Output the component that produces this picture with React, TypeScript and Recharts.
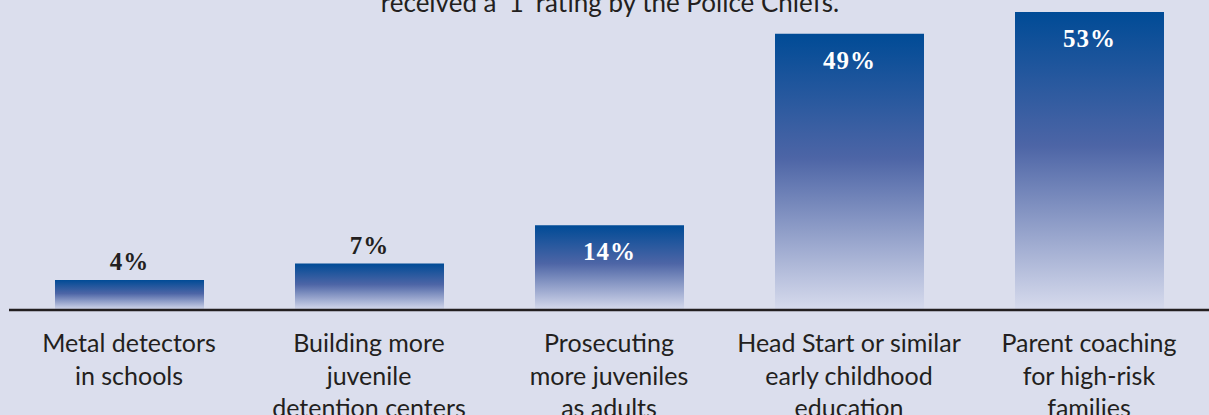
import React from 'react'
import { Bar, BarChart, LabelList, XAxis, YAxis } from 'recharts'

const categories = [
  ['Metal detectors', 'in schools'],
  ['Building more', 'juvenile', 'detention centers'],
  ['Prosecuting', 'more juveniles', 'as adults'],
  ['Head Start or similar', 'early childhood', 'education'],
  ['Parent coaching', 'for high-risk', 'families'],
]
const values = [4, 7, 14, 49, 53]
const valueLabels = ['4%', '7%', '14%', '49%', '53%']

// axis floor sits a little below zero, like the printed chart
const AXIS_MIN = -1.5
const AXIS_MAX = 53

const data = values.map((v, i) => ({ idx: i, value: v, label: valueLabels[i] }))

const INK = '#231f20'

const CategoryTick = (props: any) => {
  const { x, y, payload } = props
  const lines = categories[payload.value] || []
  return (
    <text x={x} y={y} textAnchor="middle" fill={INK} fontFamily="Lato, 'Open Sans', sans-serif" fontSize={25}>
      {lines.map((l, i) => (
        <tspan key={i} x={x} dy={i === 0 ? 34 : 32.5}>{l}</tspan>
      ))}
    </text>
  )
}

const ValueLabel = (props: any) => {
  const { x, y, width, index } = props
  const v = values[index]
  const inside = v >= 10
  return (
    <text
      x={x + width / 2}
      y={inside ? y + 35 : y - 10}
      textAnchor="middle"
      fill={inside ? '#ffffff' : INK}
      fontFamily="'Liberation Serif', serif"
      fontWeight="bold"
      fontSize={25}
      letterSpacing={1}
    >
      {valueLabels[index]}
    </text>
  )
}

const App = () => {
  return (
    <div style={{ position: 'absolute', left: 0, top: 0, width: 1209, height: 415, background: '#dbdeed', overflow: 'hidden' }}>
      <div
        style={{
          position: 'absolute',
          left: 0,
          width: 1220,
          top: -11,
          textAlign: 'center',
          fontFamily: "Lato, 'Open Sans', sans-serif",
          fontSize: 26,
          lineHeight: '26px',
          color: INK,
        }}
      >
        received a ‘1’ rating by the Police Chiefs.
      </div>
      <BarChart width={1209} height={415} data={data} margin={{ top: 12, right: 0, bottom: 0, left: 9 }}>
        <defs>
          <linearGradient id="barGrad" x1="0" y1="0" x2="0" y2="1">
            <stop offset="0%" stopColor="#004b96" />
            <stop offset="45%" stopColor="#4d65a6" />
            <stop offset="100%" stopColor="#d7dbed" />
          </linearGradient>
        </defs>
        <YAxis hide type="number" domain={[AXIS_MIN, AXIS_MAX]} allowDataOverflow />
        <XAxis
          dataKey="idx"
          height={105}
          tickLine={false}
          axisLine={{ stroke: INK, strokeWidth: 2.5 }}
          tick={<CategoryTick />}
          interval={0}
        />
        <Bar
          dataKey={(d: any) => [AXIS_MIN, d.value]}
          fill="url(#barGrad)"
          barSize={149}
          isAnimationActive={false}
        >
          <LabelList dataKey="value" content={<ValueLabel />} />
        </Bar>
      </BarChart>
    </div>
  )
}

export default App
